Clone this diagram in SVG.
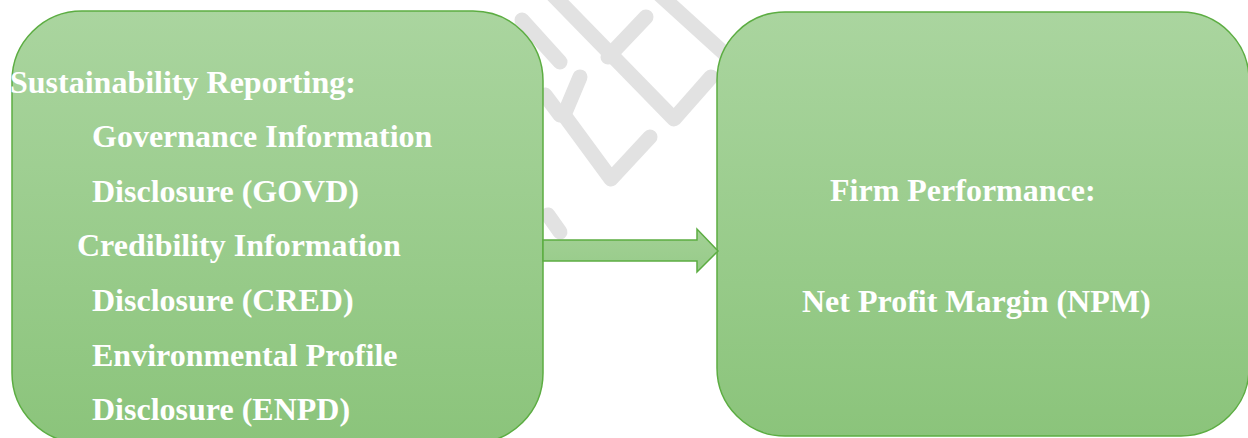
<svg xmlns="http://www.w3.org/2000/svg" width="1248" height="438" viewBox="0 0 1248 438">
  <defs>
    <linearGradient id="gfill" x1="0" y1="0" x2="0" y2="1">
      <stop offset="0" stop-color="#aad59f"/>
      <stop offset="1" stop-color="#8bc47b"/>
    </linearGradient>
    <linearGradient id="afill" x1="0" y1="0" x2="0" y2="1">
      <stop offset="0" stop-color="#a3d196"/>
      <stop offset="1" stop-color="#97cb89"/>
    </linearGradient>
  </defs>
  <style>
    .box { fill: url(#gfill); stroke: #5cad42; stroke-width: 1.5; }
    .lbl { font-family: "Liberation Serif", "Times New Roman", serif; font-weight: bold; font-size: 32px; fill: #ffffff; }
    .wm { fill: none; stroke: #e2e2e2; stroke-width: 15; stroke-linecap: round; stroke-linejoin: round; }
  </style>
  <rect width="1248" height="438" fill="#ffffff"/>
  <g id="watermark">
    <polyline class="wm" points="522,20 560,62"/>
    <polyline class="wm" points="553,-5 674,119 711,77"/>
    <polyline class="wm" points="608,57 646,17"/>
    <polyline class="wm" points="580,77 564,115 611,179 650,137"/>
    <polyline class="wm" points="660,-5 725,54"/>
    <polyline class="wm" points="545,95 560,115"/>
    <polyline class="wm" points="548,215 560,232"/>
  </g>
  <g id="node-sustainability">
    <rect class="box" x="12" y="11" width="531" height="432" rx="70" ry="70"/>
    <text class="lbl" x="10" y="93">Sustainability Reporting:</text>
    <text class="lbl" x="92" y="147">Governance Information</text>
    <text class="lbl" x="92" y="202">Disclosure (GOVD)</text>
    <text class="lbl" x="77" y="256">Credibility Information</text>
    <text class="lbl" x="92" y="311">Disclosure (CRED)</text>
    <text class="lbl" x="92" y="366">Environmental Profile</text>
    <text class="lbl" x="92" y="420">Disclosure (ENPD)</text>
  </g>
  <g id="node-performance">
    <rect class="box" x="717" y="12" width="532" height="424" rx="68" ry="68"/>
    <text class="lbl" x="830" y="201">Firm Performance:</text>
    <text class="lbl" x="802" y="312">Net Profit Margin (NPM)</text>
  </g>
  <g id="connectors">
    <polygon points="543,240 697,240 697,229 718,251 697,272 697,261 543,261" fill="url(#afill)" stroke="#5cad42" stroke-width="1.5"/>
  </g>
</svg>
